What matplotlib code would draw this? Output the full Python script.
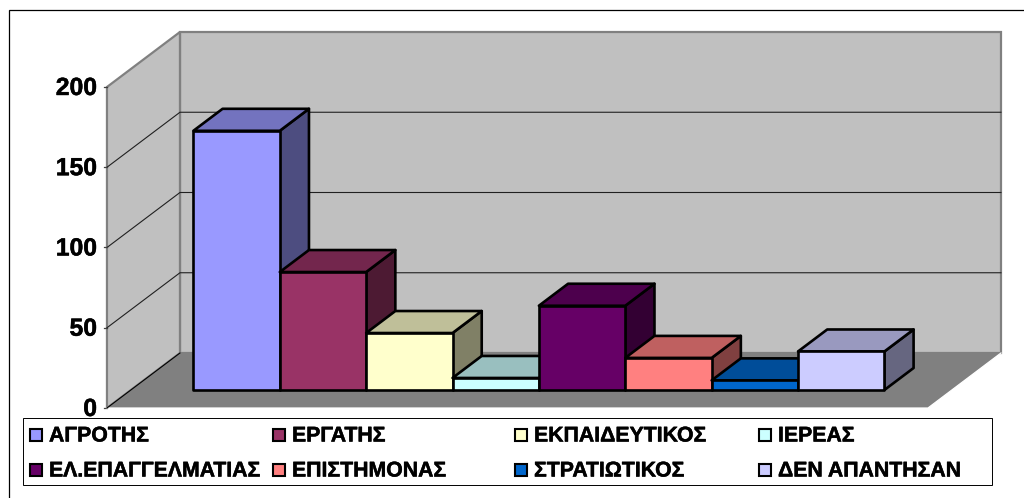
#!/usr/bin/env python
# Excel style 3D column chart, drawn as an oblique projection
import matplotlib
matplotlib.use('Agg')
import matplotlib.pyplot as plt
import matplotlib.patheffects as pe
from matplotlib.patches import Polygon, Rectangle

labels = ['ΑΓΡΟΤΗΣ', 'ΕΡΓΑΤΗΣ', 'ΕΚΠΑΙΔΕΥΤΙΚΟΣ', 'ΙΕΡΕΑΣ',
          'ΕΛ.ΕΠΑΓΓΕΛΜΑΤΙΑΣ', 'ΕΠΙΣΤΗΜΟΝΑΣ', 'ΣΤΡΑΤΙΩΤΙΚΟΣ', 'ΔΕΝ ΑΠΑΝΤΗΣΑΝ']
values = [161.5, 73.5, 35.5, 7.5, 52.5, 20, 6, 24]
colors = ['#9999FF', '#993366', '#FFFFCC', '#CCFFFF',
          '#660066', '#FF8080', '#0066CC', '#CCCCFF']
ticks = [0, 50, 100, 150, 200]

W, H = 1024, 498
# depth of the box in data units (1 bar wide, value units up)
DX = 73 / 86.375
DY = 55 / 1.605
D_FRONT, D_BACK = 18 / 55, 40 / 55
X_LEFT, X_RIGHT = -0.724, 8.781
VMAX = 200

plt.rcParams['font.family'] = ['Liberation Sans', 'DejaVu Sans']
plt.rcParams['font.weight'] = 'bold'

fig = plt.figure(figsize=(W / 100, H / 100), dpi=100)
ax = fig.add_axes([0, 0, 1, 1])
ax.set_xlim((0 - 169.5) / 86.375, (W - 169.5) / 86.375)
ax.set_ylim((408 - H) / 1.605, 408 / 1.605)
ax.axis('off')

# the reference text is a little heavier than Liberation bold
heavy = [pe.withStroke(linewidth=0.35, foreground='black')]


def pr(x, v, d):
    return (x + d * DX, v + d * DY)


def shade(c, f):
    rgb = matplotlib.colors.to_rgb(c)
    return tuple(i * f for i in rgb)


def fx(px):
    return px / W


def fy(py):
    return 1 - py / H


# outer chart border, runs off the picture on the right and bottom
fig.add_artist(Rectangle((fx(8.5), fy(520)), fx(1100), fy(10.5) - fy(520), transform=fig.transFigure,
                         fc='white', ec='black', lw=0.9, zorder=0))

# walls and floor
ax.add_patch(Polygon([pr(X_LEFT, 0, 1), pr(X_RIGHT, 0, 1), pr(X_RIGHT, VMAX, 1), pr(X_LEFT, VMAX, 1)],
                     fc='#C0C0C0', ec='#808080', lw=1.6, zorder=1))
ax.add_patch(Polygon([pr(X_LEFT, 0, 0), pr(X_LEFT, 0, 1), pr(X_LEFT, VMAX, 1), pr(X_LEFT, VMAX, 0)],
                     fc='#C0C0C0', ec='#808080', lw=1.6, zorder=1))
ax.add_patch(Polygon([pr(X_LEFT, 0, 0), pr(X_LEFT, 0, 1), pr(X_RIGHT, 0, 1), pr(X_RIGHT, 0, 0)],
                     fc='#808080', ec='none', zorder=2))
# white rim of the floor, dark line along its left side
x1, y1 = zip(pr(X_LEFT, 0, 0), pr(X_RIGHT, 0, 0), pr(X_RIGHT, 0, 1))
ax.plot(x1, y1, color='white', lw=0.9, zorder=2.5)
x1, y1 = zip(pr(X_LEFT, 0, 0), pr(X_LEFT, 0, 1))
ax.plot(x1, y1, color='black', lw=0.8, zorder=2.5)

# gridlines on both walls, tick marks and tick labels
for t in ticks:
    if 0 < t < VMAX:
        x1, y1 = zip(pr(X_LEFT, t, 0), pr(X_LEFT, t, 1), pr(X_RIGHT, t, 1))
        ax.plot(x1, y1, color='#202020', lw=0.8, zorder=1.5)
    ax.plot([X_LEFT - 0.04, X_LEFT], [t, t], color='#404040', lw=0.9, zorder=1.5)
    ax.text(X_LEFT - 0.115, t - 0.6, str(t), ha='right', va='center', fontsize=17.8, zorder=5, path_effects=heavy)

# bars, left to right so each one covers the side of the one before
for i, (v, c) in enumerate(zip(values, colors)):
    z = 3 + i * 0.1
    kw = dict(ec='black', lw=1.9, joinstyle='round', zorder=z)
    ax.add_patch(Polygon([pr(i + 1, 0, D_FRONT), pr(i + 1, 0, D_BACK), pr(i + 1, v, D_BACK), pr(i + 1, v, D_FRONT)],
                         fc=shade(c, 0.5), **kw))
    ax.add_patch(Polygon([pr(i, v, D_FRONT), pr(i + 1, v, D_FRONT), pr(i + 1, v, D_BACK), pr(i, v, D_BACK)],
                         fc=shade(c, 0.75), **kw))
    ax.add_patch(Polygon([pr(i, 0, D_FRONT), pr(i + 1, 0, D_FRONT), pr(i + 1, v, D_FRONT), pr(i, v, D_FRONT)],
                         fc=c, **kw))

# legend box
fig.add_artist(Rectangle((fx(22.5), fy(485)), fx(969.5), fy(418) - fy(485), transform=fig.transFigure,
                         fc='white', ec='black', lw=0.7, zorder=6))
col_x = [30, 273, 515, 759]
row_y = [435, 470]
for i, (lab, c) in enumerate(zip(labels, colors)):
    mx = col_x[i % 4]
    my = row_y[i // 4]
    fig.add_artist(Rectangle((fx(mx), fy(my + 6)), fx(12), fy(my - 6) - fy(my + 6), transform=fig.transFigure,
                             fc=c, ec='black', lw=1.5, zorder=7))
    fig.text(fx(mx + 19), fy(my + 1), lab, ha='left', va='center', fontsize=15.3, zorder=7, path_effects=heavy)

fig.savefig('out.png', dpi=100)
